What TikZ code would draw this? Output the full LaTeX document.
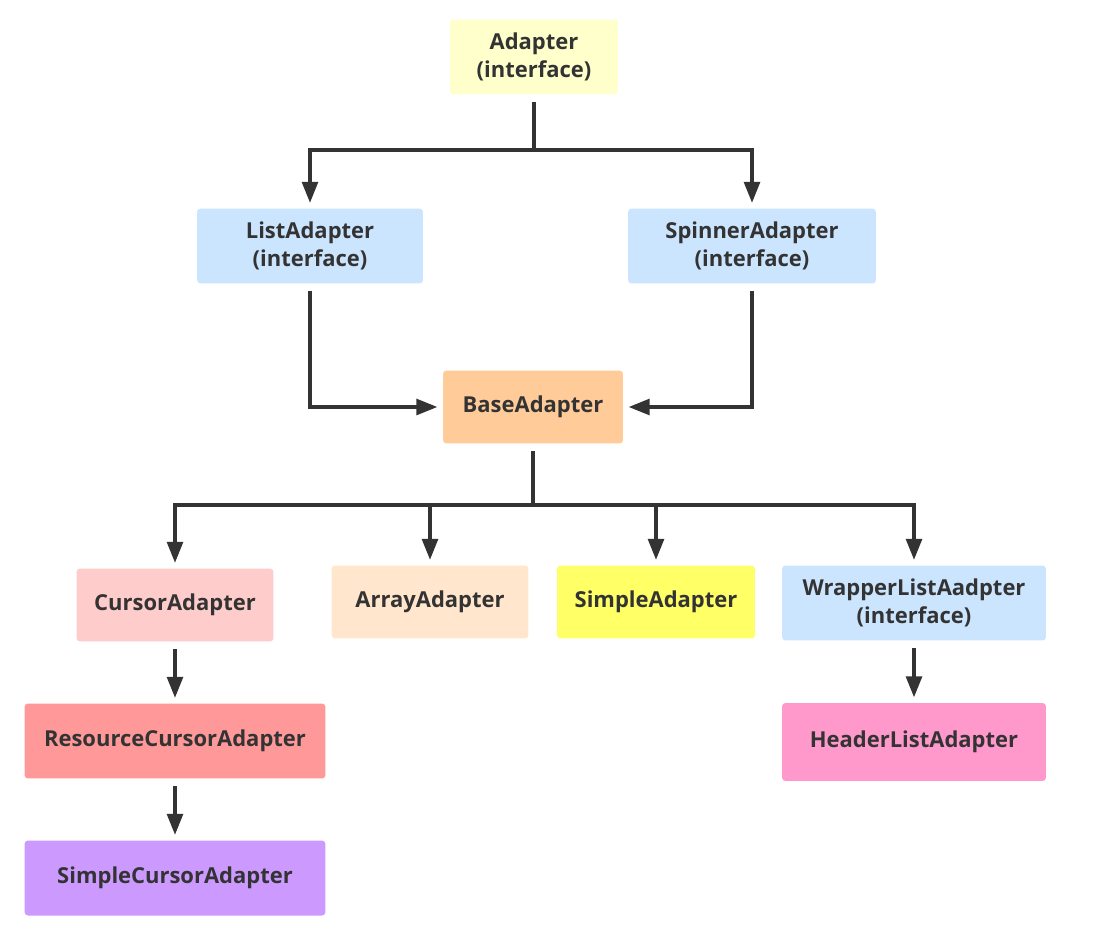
\documentclass[tikz,border=0pt]{standalone}
\usepackage{fontspec}
\setmainfont{Open Sans}
\usetikzlibrary{arrows.meta}

\definecolor{textgray}{HTML}{333333}
\definecolor{linegray}{HTML}{333333}
\definecolor{ifaceyellow}{HTML}{FFFFCC}
\definecolor{ifaceblue}{HTML}{CCE5FF}
\definecolor{baseorange}{HTML}{FFCC99}
\definecolor{cursorpink}{HTML}{FFCCCC}
\definecolor{arraypeach}{HTML}{FFE6CC}
\definecolor{simpleyellow}{HTML}{FFFF66}
\definecolor{resred}{HTML}{FF9999}
\definecolor{headerpink}{HTML}{FF99CC}
\definecolor{simplepurple}{HTML}{CC99FF}

\begin{document}
\begin{tikzpicture}[
    x=0.02cm, y=-0.02cm,
    block/.style={rectangle, rounded corners=2pt, align=center, text=textgray,
        font=\fontsize{12.5}{16}\selectfont\bfseries, minimum height=1.5cm, inner sep=2pt},
    conn/.style={line width=2pt, draw=linegray, shorten <=4pt},
    arrow/.style={conn, -{Triangle[length=12pt, width=9pt]}, shorten >=3pt}
]
    \useasboundingbox (0,0) rectangle (1111,925);

    % top level
    \node[block, fill=ifaceyellow, minimum width=3.36cm] (adapter) at (534,57) {Adapter\\(interface)};
    \node[block, fill=ifaceblue, minimum width=4.52cm] (list) at (310,246) {ListAdapter\\(interface)};
    \node[block, fill=ifaceblue, minimum width=4.96cm] (spinner) at (752,246) {SpinnerAdapter\\(interface)};
    \node[block, fill=baseorange, minimum width=3.6cm, minimum height=1.46cm] (base) at (533,407) {BaseAdapter};

    % subclasses
    \node[block, fill=cursorpink, minimum width=3.94cm, minimum height=1.46cm] (cursor) at (175,605) {CursorAdapter};
    \node[block, fill=arraypeach, minimum width=3.94cm, minimum height=1.46cm] (array) at (430,602) {ArrayAdapter};
    \node[block, fill=simpleyellow, minimum width=3.96cm, minimum height=1.46cm] (simple) at (656,602) {SimpleAdapter};
    \node[block, fill=ifaceblue, minimum width=5.28cm] (wrapper) at (914,603) {WrapperListAadpter\\(interface)};
    \node[block, fill=resred, minimum width=6.02cm] (rescursor) at (175,741) {ResourceCursorAdapter};
    \node[block, fill=headerpink, minimum width=5.28cm, minimum height=1.56cm] (header) at (914,742) {HeaderListAdapter};
    \node[block, fill=simplepurple, minimum width=6.02cm] (simplecursor) at (175,878) {SimpleCursorAdapter};

    \coordinate (topsplit) at (534,150);
    \coordinate (basesplit) at (533,505);

    \draw[conn] (adapter) -- (topsplit);
    \draw[arrow, shorten <=0pt] (topsplit) -| (list);
    \draw[arrow, shorten <=0pt] (topsplit) -| (spinner);

    \draw[arrow] (list) |- (base);
    \draw[arrow] (spinner) |- (base);

    \draw[conn] (base) -- (basesplit);
    \foreach \child in {cursor, array, simple, wrapper}
        \draw[arrow, shorten <=0pt] (basesplit) -| (\child);

    \draw[arrow] (cursor) -- (rescursor);
    \draw[arrow] (rescursor) -- (simplecursor);
    \draw[arrow] (wrapper) -- (header);
\end{tikzpicture}
\end{document}
